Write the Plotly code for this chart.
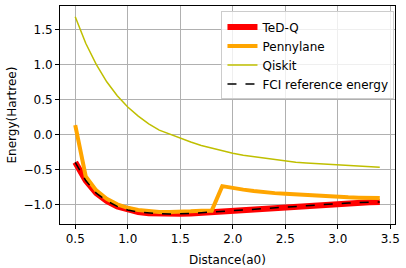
import plotly.graph_objects as go

distance = [0.5, 0.6, 0.7, 0.8, 0.9, 1.0, 1.1, 1.2, 1.3, 1.4, 1.5, 1.6, 1.7, 1.8, 1.9,
            2.0, 2.1, 2.2, 2.3, 2.4, 2.5, 2.6, 2.7, 2.8, 2.9, 3.0, 3.1, 3.2, 3.3, 3.4]

fci = [-0.40, -0.66, -0.84, -0.95, -1.03, -1.08, -1.11, -1.127, -1.135, -1.137, -1.135,
       -1.13, -1.12, -1.11, -1.10, -1.09, -1.078, -1.066, -1.054, -1.043, -1.032, -1.022,
       -1.012, -1.003, -0.995, -0.988, -0.981, -0.975, -0.970, -0.965]

tedq = list(fci)

pennylane = [0.13, -0.60, -0.80, -0.92, -1.00, -1.05, -1.08, -1.10, -1.11, -1.11, -1.11,
             -1.10, -1.09, -1.09, -0.74, -0.77, -0.79, -0.81, -0.83, -0.84, -0.85, -0.86,
             -0.87, -0.88, -0.885, -0.89, -0.90, -0.905, -0.91, -0.91]

qiskit = [1.68, 1.30, 1.00, 0.75, 0.55, 0.39, 0.26, 0.15, 0.06, 0.00, -0.06, -0.11,
          -0.16, -0.20, -0.24, -0.27, -0.30, -0.32, -0.35, -0.37, -0.38, -0.40, -0.41,
          -0.42, -0.43, -0.44, -0.45, -0.455, -0.46, -0.47]

x_ticks = [0.5, 1.0, 1.5, 2.0, 2.5, 3.0, 3.5]
y_ticks = [-1.0, -0.5, 0.0, 0.5, 1.0, 1.5]

font = "DejaVu Sans"
fs = 12

fig = go.Figure()
fig.add_trace(go.Scatter(x=distance, y=tedq, mode="lines", name="TeD-Q",
                         line=dict(color="#ff0000", width=6)))
fig.add_trace(go.Scatter(x=distance, y=pennylane, mode="lines", name="Pennylane",
                         line=dict(color="#ffa500", width=4)))
fig.add_trace(go.Scatter(x=distance, y=qiskit, mode="lines", name="Qiskit",
                         line=dict(color="#bfbf00", width=1.5)))
fig.add_trace(go.Scatter(x=distance, y=fci, mode="lines", name="FCI reference energy",
                         line=dict(color="black", width=1.5, dash="dash")))

axis_common = dict(showgrid=True, gridcolor="#b0b0b0", gridwidth=0.8, zeroline=False,
                   showline=True, linecolor="black", linewidth=1, mirror=True,
                   ticks="outside", ticklen=4, tickcolor="black", automargin=False,
                   tickfont=dict(family=font, size=fs, color="black"))

fig.update_layout(
    width=406, height=268,
    margin=dict(l=60, r=11, t=6, b=44),
    paper_bgcolor="white", plot_bgcolor="white",
    font=dict(family=font, size=fs, color="black"),
    xaxis=dict(range=[0.355, 3.545], tickvals=x_ticks, tickformat=".1f", **axis_common),
    yaxis=dict(range=[-1.281, 1.833], tickvals=y_ticks, tickformat=".1f", **axis_common),
    legend=dict(x=0.482, y=0.975, xanchor="left", yanchor="top",
                bgcolor="rgba(255,255,255,0.8)", bordercolor="#cccccc", borderwidth=1,
                font=dict(family=font, size=fs), tracegroupgap=0,
                itemwidth=30),
    showlegend=True,
    annotations=[
        dict(text="Distance(a0)", xref="paper", yref="paper", x=0.5, y=-0.125,
             xanchor="center", yanchor="top", showarrow=False,
             font=dict(family=font, size=fs)),
        dict(text="Energy(Hartree)", xref="paper", yref="paper", x=-0.115, y=0.5,
             xanchor="right", yanchor="middle", textangle=-90, showarrow=False,
             font=dict(family=font, size=fs)),
    ],
)

fig.write_html("out.html", config={"displayModeBar": False},
               post_script="document.body.style.margin='0';document.body.style.overflow='hidden';")
